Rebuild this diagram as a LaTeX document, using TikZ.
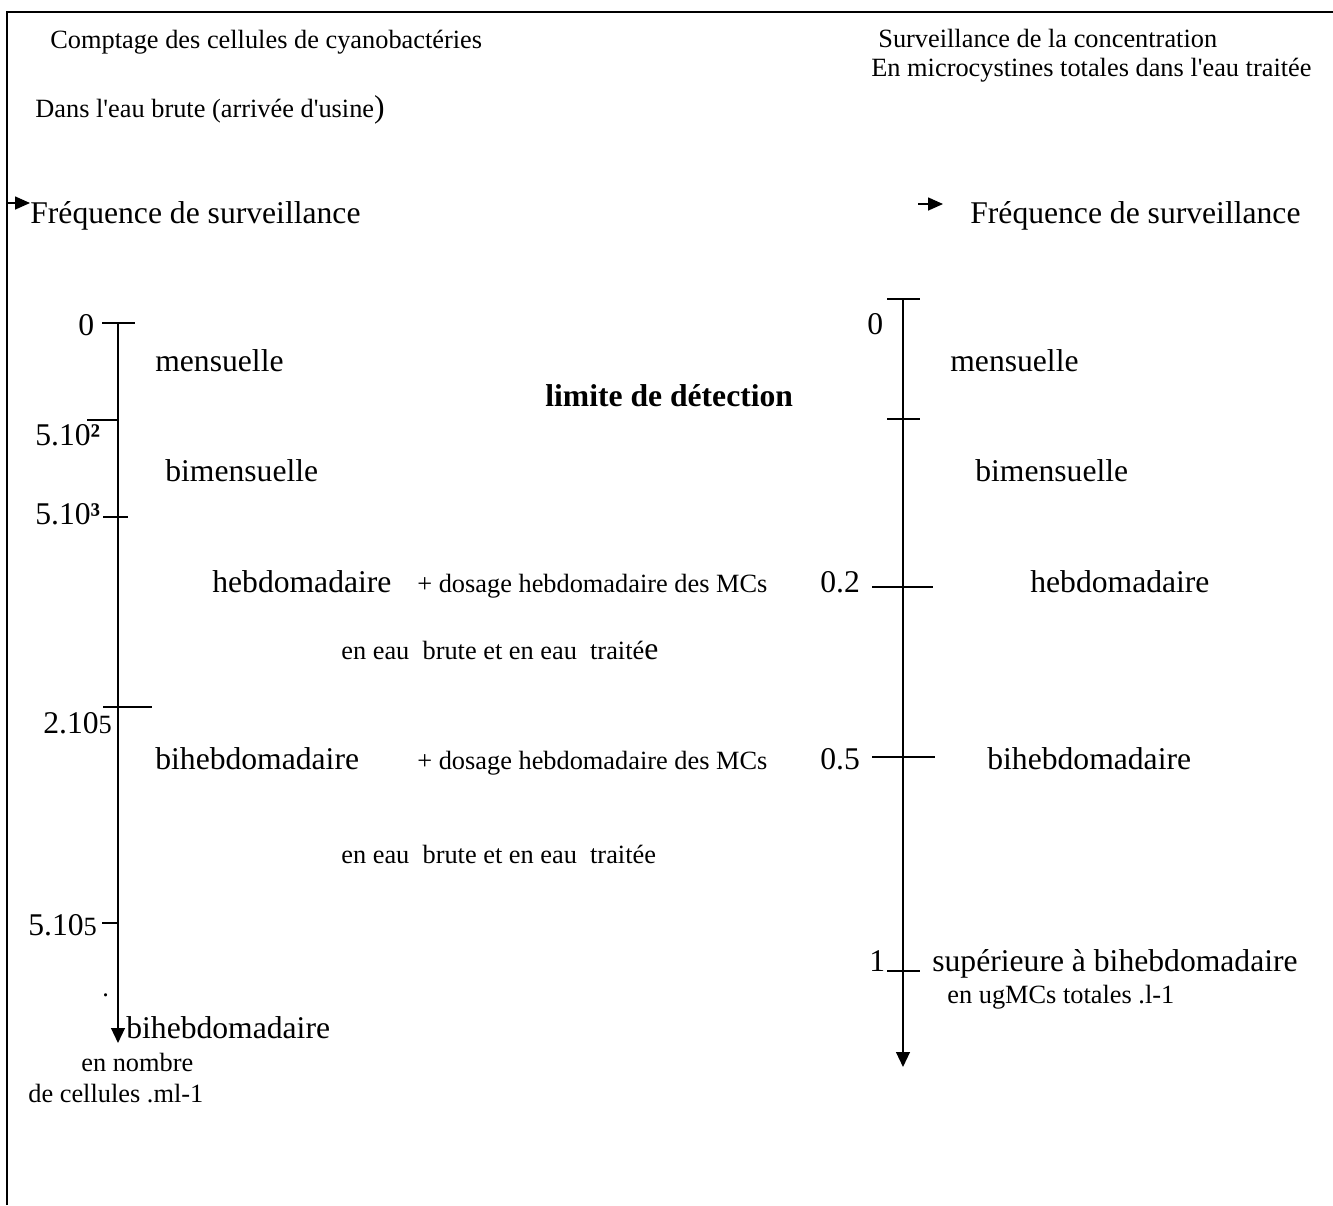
\documentclass[tikz,border=0pt]{standalone}
\usepackage{fontspec}
\setmainfont{Liberation Serif}
\usetikzlibrary{arrows.meta}

\newcommand{\grand}{\fontsize{18}{21}\selectfont}
\newcommand{\petit}{\fontsize{15}{18}\selectfont}
\newcommand{\apos}{\textquotesingle}

\begin{document}
\begin{tikzpicture}[x=0.02cm, y=-0.02cm,
    every node/.style={anchor=base west, inner sep=0pt, font=\grand},
    note/.style={font=\petit},
    axe/.style={line width=1.1pt, -{Triangle[length=8.5pt, width=7.8pt]}},
    fleche/.style={line width=0.8pt, -{Triangle[length=8.5pt, width=7.4pt]}},
    graduation/.style={line width=0.8pt}]
  \useasboundingbox (0,0) rectangle (1333,1205);
  \draw[line width=0.8pt] (7,1205) -- (7,12) -- (1333,12);

  % titres
  \node[note] (titreG) at (50,48) {Comptage des cellules de cyanobactéries};
  \node[note] (eaubrute) at (35,117) {Dans l\apos eau brute (arrivée d\apos usine{\grand )}};
  \node[note] (titreD1) at (878,47) {Surveillance de la concentration};
  \node[note] (titreD2) at (871,76) {En microcystines totales dans l\apos eau traitée};

  \coordinate (fG) at (7,203);
  \node (freqG) at (30,223) {Fréquence de surveillance};
  \coordinate (fD) at (918,204);
  \coordinate (fDbout) at (943,204);
  \node (freqD) at (970,223) {Fréquence de surveillance};
  \draw[fleche] (fG) -- (freqG.base west |- fG);
  \draw[fleche] (fD) -- (fDbout);

  % axe cellules
  \coordinate (hautG) at (118,323);
  \coordinate (basG) at (118,1043);
  \draw[axe] (hautG) -- (basG);
  \foreach \a/\b/\y in {102/135/323, 87/118/420, 103/128/517, 103/152/707, 102/118/923}
    \draw[graduation] (\a,\y) -- (\b,\y);
  \node (g0) at (78,335) {0};
  \node (g1) at (35,445) {5.10{\bfseries ²}};
  \node (g2) at (35,524) {5.10{\bfseries ³}};
  \node (g3) at (43,733) {2.10{\petit 5}};
  \node (g4) at (28,935) {5.10{\petit 5}};
  \node[note] (point) at (102,996) {.};

  \node (mensG) at (155,371) {mensuelle};
  \node (bimG) at (165,481) {bimensuelle};
  \node (hebG) at (212,592) {hebdomadaire};
  \node[note] (dosage1) at (417,592) {+ dosage hebdomadaire des MCs};
  \node[note] (eau1) at (341,659) {en eau\ \ brute et en eau\ \ traité{\grand e}};
  \node (bihebG) at (155,769) {bihebdomadaire};
  \node[note] (dosage2) at (417,769) {+ dosage hebdomadaire des MCs};
  \node[note] (eau2) at (341,863) {en eau\ \ brute et en eau\ \ traitée};
  \node (finG) at (126,1038) {bihebdomadaire};
  \node[note] (unite1) at (81,1071) {en nombre};
  \node[note] (unite2) at (28,1102) {de cellules .ml-1};

  \node[font=\grand\bfseries] (limite) at (545,406) {limite de détection};

  % axe microcystines
  \coordinate (hautD) at (903,299);
  \coordinate (basD) at (903,1067);
  \draw[axe] (hautD) -- (basD);
  \foreach \a/\b/\y in {887/920/299, 887/920/419, 872/933/587, 872/935/757, 887/920/971}
    \draw[graduation] (\a,\y) -- (\b,\y);
  \node (d0) at (867,334) {0};
  \node (d1) at (820,592) {0.2};
  \node (d2) at (820,769) {0.5};
  \node (d3) at (869,971) {1};

  \node (mensD) at (950,371) {mensuelle};
  \node (bimD) at (975,481) {bimensuelle};
  \node (hebD) at (1030,592) {hebdomadaire};
  \node (bihebD) at (987,769) {bihebdomadaire};
  \node (supD) at (932,971) {supérieure à bihebdomadaire};
  \node[note] (unite3) at (947,1003) {en ugMCs totales .l-1};
\end{tikzpicture}
\end{document}
